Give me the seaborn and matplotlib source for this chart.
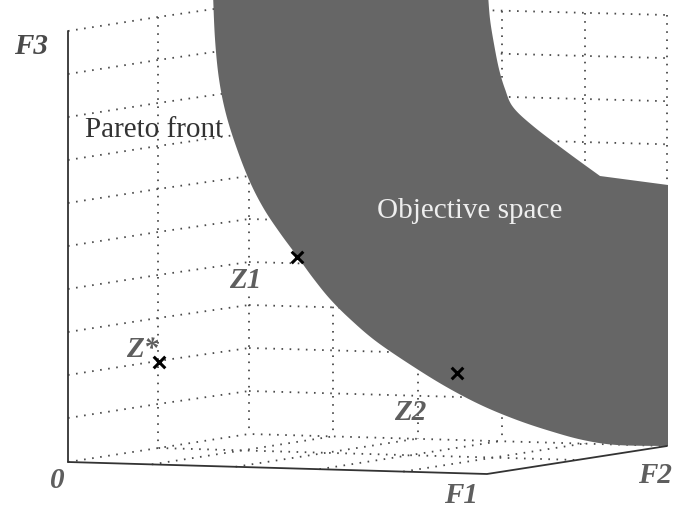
import numpy as np
import pandas as pd
import matplotlib
matplotlib.use("Agg")
import matplotlib.pyplot as plt
import seaborn as sns

# ---- drawing-space coordinates of the schematic (pixel-like units, y down) ----
# wall grid
left_wall_cols = [68, 158, 249]                 # x of F3 axis and left-wall verticals
left_wall_top = [32, 18, 5]                     # top row y at those columns
back_wall_cols = [249, 333, 418, 502, 585, 667]
back_wall_top = [5, 16]                         # y at first/last back column (top row)
back_wall_base = [435, 447]                     # y at first/last back column (base)
row_step = 43.0
n_rows = 10

# floor quadrilateral: origin, F1 end, F2 end, back corner
floor_x = [68, 487, 667, 249]
floor_y = [463, 475, 447, 435]

# objective-space region: outer (Pareto front) edge then inner edge
front_x = [213, 215, 219, 226, 237, 250, 264, 280, 297, 313, 330, 350, 377,
           417, 450, 483, 517, 550, 583, 617, 668]
front_y = [-5, 40, 80, 115, 150, 183, 210, 234, 257, 279, 300, 320, 343,
           370, 390, 407, 421, 432, 441, 446, 447]
inner_x = [668, 600, 567, 533, 513, 505, 499, 494, 490, 488]
inner_y = [186, 177, 153, 127, 108, 90, 70, 45, 20, -5]

# solutions
point_names = ["Z*", "Z1", "Z2"]
point_x = [159, 297, 457]
point_y = [363, 258, 374]


def smooth(xs, ys, n=12):
    """Catmull-Rom curve through the given vertices."""
    p = np.column_stack([xs, ys]).astype(float)
    p = np.vstack([p[0], p, p[-1]])
    out = []
    for i in range(1, len(p) - 2):
        p0, p1, p2, p3 = p[i - 1], p[i], p[i + 1], p[i + 2]
        for t in np.linspace(0, 1, n, endpoint=False):
            t2, t3 = t * t, t * t * t
            out.append(0.5 * ((2 * p1) + (-p0 + p2) * t +
                              (2 * p0 - 5 * p1 + 4 * p2 - p3) * t2 +
                              (-p0 + 3 * p1 - 3 * p2 + p3) * t3))
    out.append(p[-2])
    out = np.array(out)
    return out[:, 0], out[:, 1]


sns.set_theme(style="white")
plt.rcParams["font.family"] = ["Liberation Serif", "DejaVu Serif"]

fig = plt.figure(figsize=(6.83, 5.10), dpi=100)
ax = fig.add_axes([0, 0, 1, 1])
ax.set_xlim(0, 683)
ax.set_ylim(510, 0)
ax.axis("off")

dot = dict(color="#4a4a4a", lw=1.3, linestyle=(0, (0.9, 3.6)), zorder=1)

# left wall rows and columns
for k in range(n_rows):
    ys = [y + row_step * k for y in left_wall_top]
    ax.plot(left_wall_cols, ys, **dot)
for x, yt in zip(left_wall_cols[1:], left_wall_top[1:]):
    yb = np.interp(x, [floor_x[0], floor_x[3]], [floor_y[0], floor_y[3]])
    ax.plot([x, x], [yt, yb], **dot)

# back wall rows and columns
bx0, bx1 = back_wall_cols[0], back_wall_cols[-1]
for k in range(n_rows):
    y0 = back_wall_top[0] + (back_wall_base[0] - back_wall_top[0]) * k / n_rows
    y1 = back_wall_top[1] + (back_wall_base[1] - back_wall_top[1]) * k / n_rows
    ax.plot([bx0, bx1], [y0, y1], **dot)
for x in back_wall_cols[1:]:
    yt = np.interp(x, [bx0, bx1], back_wall_top)
    yb = np.interp(x, [bx0, bx1], back_wall_base)
    ax.plot([x, x], [yt, yb], **dot)

# floor grid (bilinear over the floor quadrilateral)
P = np.array(list(zip(floor_x, floor_y)), dtype=float)
def floor_pt(s, t):
    return (1 - s) * (1 - t) * P[0] + s * (1 - t) * P[1] + s * t * P[2] + (1 - s) * t * P[3]

ax.plot([P[0][0], P[3][0], P[2][0]], [P[0][1], P[3][1], P[2][1]], **dot)
for s in [0.2, 0.4, 0.6, 0.8]:
    a, b = floor_pt(s, 0), floor_pt(s, 1)
    ax.plot([a[0], b[0]], [a[1], b[1]], **dot)
a, b = floor_pt(0, 0.5), floor_pt(1, 0.5)
ax.plot([a[0], b[0]], [a[1], b[1]], **dot)

# solid axes
ax.plot([68, 68], [32, 463], color="#333333", lw=1.3, zorder=3)
ax.plot(floor_x[:3], floor_y[:3], color="#333333", lw=1.3, zorder=3)

# objective-space region
fx, fy = smooth(front_x, front_y)
ix, iy = smooth(inner_x[1:], inner_y[1:])
poly_x = list(fx) + [inner_x[0]] + list(ix)
poly_y = list(fy) + [inner_y[0]] + list(iy)
ax.fill(poly_x, poly_y, color="#666666", lw=0, zorder=2)

# solutions as crosses
pts = pd.DataFrame({"name": point_names, "x": point_x, "y": point_y})
sns.scatterplot(data=pts, x="x", y="y", marker="x", s=70, color="black",
                linewidth=2.2, ax=ax, zorder=5, legend=False)
ax.set_xlabel("")
ax.set_ylabel("")
ax.axis("off")

lab = dict(fontweight="bold", fontstyle="italic", fontsize=21, color="#5e5e5e",
           ha="center", va="center", zorder=6)
ax.text(31, 46, "F3", **{**lab, "color": "#4a4a4a"})
ax.text(57, 481, "0", **lab)
ax.text(461, 496, "F1", **lab)
ax.text(655, 476, "F2", **lab)
ax.text(142, 350, "Z*", **lab)
ax.text(245, 281, "Z1", bbox=dict(facecolor="white", edgecolor="none", pad=0.5), **lab)
ax.text(410, 413, "Z2", **lab)

ax.text(154, 130, "Pareto front", fontsize=21, color="#333333",
        ha="center", va="center", zorder=6)
ax.text(470, 211, "Objective space", fontsize=21, color="#eeeeee",
        ha="center", va="center", zorder=6)

fig.savefig("out.png", dpi=100)
